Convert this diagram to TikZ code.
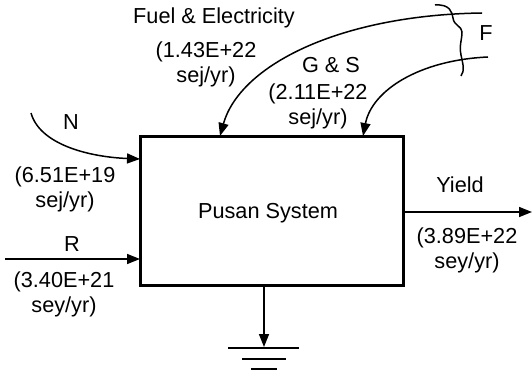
\documentclass[tikz,border=0pt]{standalone}
\usepackage{fontspec}
\setmainfont{Liberation Sans}
\usetikzlibrary{arrows.meta}
\begin{document}
\begin{tikzpicture}[x=1pt,y=-1pt,
  lbl/.style={inner sep=0pt,align=center,font=\fontsize{21.7}{25}\selectfont},
  flow/.style={line width=1.5pt,-{Triangle[length=13pt,width=10pt]}},
  plain/.style={line width=1.5pt}]
\useasboundingbox (0,0) rectangle (532,374);
% system box
\node[draw,line width=2.5pt,minimum width=263pt,minimum height=149pt,inner sep=0pt] (sys) at (272,211) {};
\node[lbl] (sysname) at (268,213) {Pusan System};
% labels
\node[lbl] (fuel) at (214,18) {Fuel \& Electricity};
\node[lbl] (fuelv) at (206,64) {(1.43E+22\\sej/yr)};
\node[lbl] (gs) at (331,65) {G \& S};
\node[lbl] (gsv) at (318,106) {(2.11E+22\\sej/yr)};
\node[lbl] (F) at (486,33) {F};
\node[lbl] (N) at (71,122) {N};
\node[lbl] (Nv) at (65,189) {(6.51E+19\\sej/yr)};
\node[lbl] (R) at (72,244) {R};
\node[lbl] (Rv) at (64,294) {(3.40E+21\\sey/yr)};
\node[lbl] (Y) at (460,185) {Yield};
\node[lbl] (Yv) at (467,250) {(3.89E+22\\sey/yr)};
% free ends and entry points
\coordinate (fuelsrc) at (482,13);
\coordinate (fuelin) at (220,136);
\coordinate (gssrc) at (488,57);
\coordinate (gsin) at (363,136);
\coordinate (nsrc) at (31,113);
\coordinate (nin) at (140,159);
\coordinate (rsrc) at (5,259);
\coordinate (rin) at (140,259);
\coordinate (yout) at (404,212);
\coordinate (yend) at (532,212);
\coordinate (sinktop) at (264,286);
\coordinate (sinkend) at (264,347);
% connectors
\draw[flow] (fuelsrc) .. controls (340,15) and (240,65) .. (fuelin);
\draw[flow] (gssrc) .. controls (420,60) and (372,90) .. (gsin);
\draw[flow] (nsrc) .. controls (40,145) and (90,157) .. (nin);
\draw[flow] (rsrc) -- (rin);
\draw[flow] (yout) -- (yend);
\draw[flow] (sinktop) -- (sinkend);
% brace
\draw[plain] (435,5) .. controls (450,4) and (452,12) .. (453,18)
  .. controls (454,26) and (462,26) .. (462,32)
  .. controls (462,40) and (459,45) .. (461,55)
  .. controls (463,65) and (465,70) .. (461,76);
% ground
\draw[plain] (228,348) -- (299,348);
\draw[plain] (242,359) -- (286,359);
\draw[plain] (251,369) -- (277,369);
\end{tikzpicture}
\end{document}
